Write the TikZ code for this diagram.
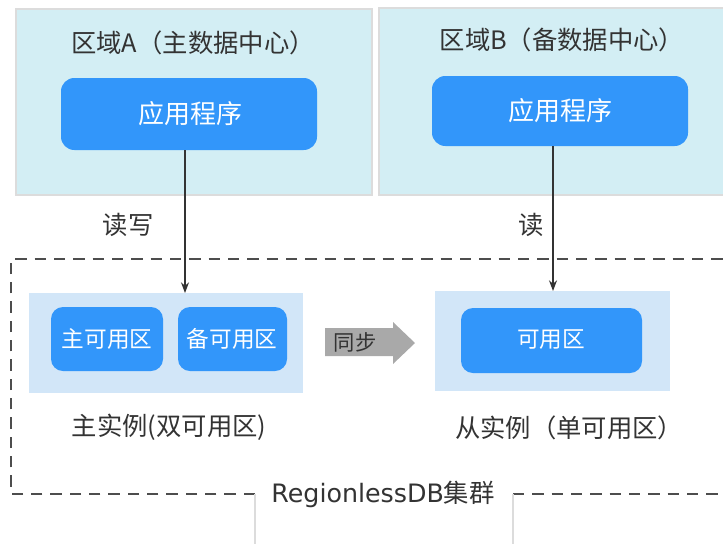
\documentclass[tikz,border=0pt]{standalone}
\usepackage{fontspec}
\setmainfont{Noto Sans CJK SC}
\newfontfamily\latfont{DejaVu Sans}
\usetikzlibrary{arrows.meta,shapes.arrows}
\definecolor{regionfill}{HTML}{D3EEF4}
\definecolor{regionline}{HTML}{DCDCDC}
\definecolor{appblue}{HTML}{3296FA}
\definecolor{instfill}{HTML}{D2E6F8}
\definecolor{txt}{HTML}{333333}
\definecolor{dash}{HTML}{4D4D4D}
\definecolor{syncgray}{HTML}{A9A9A9}
\tikzset{
  region/.style={fill=regionfill,draw=regionline,line width=0.8pt},
  appbox/.style={fill=appblue,rounded corners=10pt},
  zonebox/.style={fill=appblue,rounded corners=9pt},
  apptext/.style={text=white,font=\fontsize{19.5}{22}\selectfont,inner sep=0pt},
  zonetext/.style={text=white,font=\fontsize{17}{20}\selectfont,inner sep=0pt},
  inst/.style={fill=instfill},
  lbl/.style={text=txt,font=\fontsize{19}{22}\selectfont,inner sep=0pt},
  conn/.style={draw=txt,line width=0.9pt,-{Stealth[length=8pt,width=6pt]}},
  dashbox/.style={draw=dash,line width=1.5pt,dash pattern=on 8.5pt off 6pt},
}
\begin{document}
\begin{tikzpicture}[x=0.75pt,y=-0.75pt]
\useasboundingbox (0,0) rectangle (723,543);
% regions
\path[region] (16,9) rectangle (372,195);
\path[region] (379,8) rectangle (740,195);
\node[lbl] (ta) at (193,43) {区域A（主数据中心）};
\node[lbl] (tb) at (562,40) {区域B（备数据中心）};
% app boxes
\path[appbox] (61,78) rectangle (317,150);
\node[apptext] (appa) at (190,114) {应用程序};
\coordinate (appaS) at (185,150);
\path[appbox] (432,76) rectangle (688,146);
\node[apptext] (appb) at (560,111) {应用程序};
\coordinate (appbS) at (553,146);
% dashed cluster
\draw[dashbox] (255,494) -- (11,494) -- (11,259) -- (730,259);
\draw[dashbox] (513,494) -- (730,494);
\draw[regionline,line width=0.8pt] (255,494) -- (255,545);
\draw[regionline,line width=0.8pt] (513,494) -- (513,545);
\node[lbl] (cl) at (383,494) {{\latfont RegionlessDB}集群};
% instances
\path[inst] (29,293) rectangle (303,393);
\coordinate (instaN) at (185,293);
\path[zonebox] (51,307) rectangle (163,371);
\node[zonetext] (z1) at (107,339) {主可用区};
\path[zonebox] (178,307) rectangle (287,371);
\node[zonetext] (z2) at (232,339) {备可用区};
\path[inst] (435,291) rectangle (670,391);
\coordinate (instbN) at (553,291);
\path[zonebox] (461,308) rectangle (642,373);
\node[zonetext] (z3) at (551,340) {可用区};
\node[lbl] (la) at (169,427) {主实例(双可用区)};
\node[lbl] (lb) at (569,428) {从实例（单可用区）};
% sync arrow
\fill[syncgray] (325,328) -- (393,328) -- (393,322) -- (415,343) -- (393,364) -- (393,356) -- (325,356) -- cycle;
\node[text=txt,font=\fontsize{16}{18}\selectfont,inner sep=0pt] (sync) at (355,342) {同步};
% connectors
\draw[conn] (appaS) -- (instaN);
\draw[conn] (appbS) -- (instbN);
\node[lbl] (rw) at (128,225) {读写};
\node[lbl] (r) at (531,225) {读};
\end{tikzpicture}
\end{document}
